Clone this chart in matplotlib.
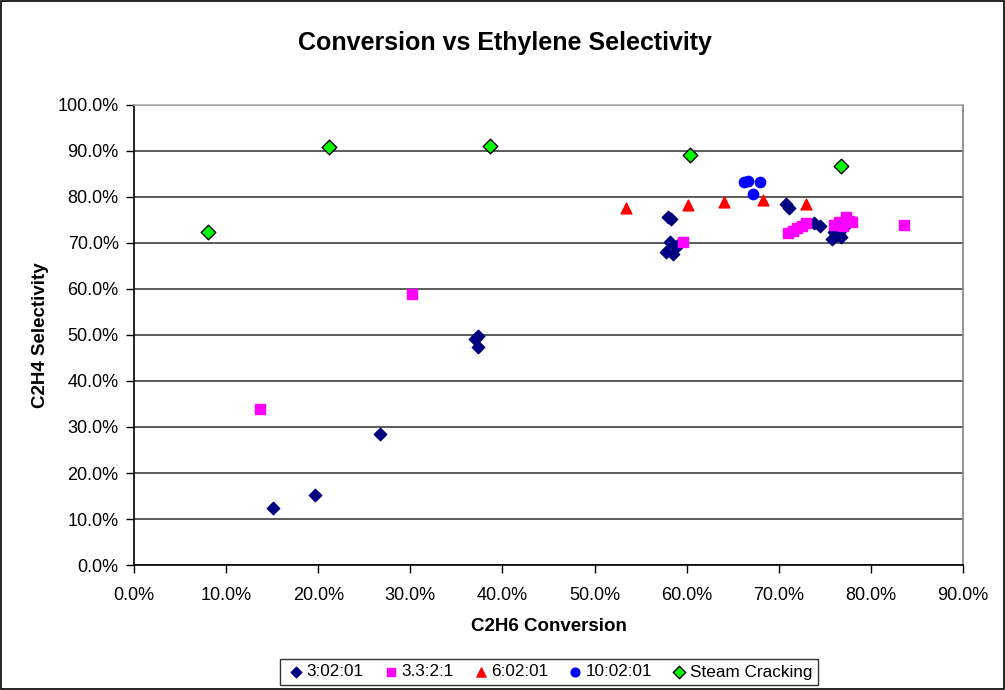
import matplotlib
matplotlib.use("Agg")
import matplotlib.pyplot as plt
from matplotlib.ticker import FuncFormatter, MultipleLocator
from matplotlib.patches import Rectangle

plt.rcParams['font.family'] = ['Liberation Sans', 'DejaVu Sans']

# C2H6 conversion (%) and C2H4 selectivity (%) per feed ratio
r3_conv = [15.1, 19.7, 26.7, 37.0, 37.3, 37.4, 58.0, 58.3, 57.8, 58.2, 58.5, 58.8, 59.2,
           70.8, 71.1, 73.8, 74.5, 75.8, 76.0, 76.3, 76.8, 76.5, 77.2]
r3_sel = [12.5, 15.3, 28.5, 49.2, 49.7, 47.5, 75.7, 75.3, 68.0, 70.3, 67.7, 69.2, 69.8,
          78.5, 77.6, 74.3, 73.8, 70.8, 72.3, 71.8, 71.2, 72.0, 73.6]

r33_conv = [13.7, 30.2, 59.6, 71.0, 71.5, 72.0, 72.5, 73.0,
            76.0, 76.5, 77.0, 77.3, 77.6, 78.0, 83.6]
r33_sel = [34.0, 59.0, 70.3, 72.2, 72.7, 73.2, 73.8, 74.3,
           74.0, 74.5, 73.8, 75.6, 74.8, 74.5, 74.0]

r6_conv = [53.4, 60.1, 64.0, 68.3, 73.0]
r6_sel = [77.7, 78.2, 79.0, 79.4, 78.4]

r10_conv = [66.2, 66.7, 68.0, 67.2]
r10_sel = [83.3, 83.4, 83.3, 80.7]

steam_conv = [8.0, 21.2, 38.7, 60.4, 76.8]
steam_sel = [72.3, 90.8, 91.0, 89.1, 86.8]

fig = plt.figure(figsize=(10.05, 6.9), dpi=100)
ax = fig.add_axes([134/1005, 1 - 565/690, (963-134)/1005, (565-105)/690])

ax.scatter(r3_conv, r3_sel, marker='D', s=40, color='#000080', label='3:02:01', zorder=3)
ax.scatter(r33_conv, r33_sel, marker='s', s=50, color='#FF00FF', label='3.3:2:1', zorder=3)
ax.scatter(r6_conv, r6_sel, marker='^', s=60, color='#FF0000', label='6:02:01', zorder=3)
ax.scatter(r10_conv, r10_sel, marker='o', s=55, color='#0000FF', label='10:02:01', zorder=3)
ax.scatter(steam_conv, steam_sel, marker='D', s=55, color='#00FF00', edgecolors='black',
           linewidths=1.0, label='Steam Cracking', zorder=4)

ax.set_xlim(0, 90)
ax.set_ylim(0, 100)
ax.xaxis.set_major_locator(MultipleLocator(10))
ax.yaxis.set_major_locator(MultipleLocator(10))
ax.xaxis.set_major_formatter(FuncFormatter(lambda v, p: f"{v:.1f}%"))
ax.yaxis.set_major_formatter(FuncFormatter(lambda v, p: f"{v:.1f}%"))
ax.tick_params(axis='both', direction='out', length=6, width=1, labelsize=13, color='black')
ax.tick_params(axis='x', pad=10)
ax.tick_params(axis='y', pad=5)
ax.yaxis.grid(True, color='#404040', linewidth=1.2)
ax.set_axisbelow(True)
ax.spines['left'].set_color('black')
ax.spines['bottom'].set_color('black')
ax.spines['top'].set_color('#B0B0B0')
ax.spines['right'].set_color('#808080')
for s in ax.spines.values():
    s.set_linewidth(1.2)

ax.set_xlabel('C2H6 Conversion', fontsize=13.5, fontweight='bold', labelpad=10)
ax.set_ylabel('C2H4 Selectivity', fontsize=13.5, fontweight='bold', labelpad=6)
fig.text(505/1005, 1 - 43/690, 'Conversion vs Ethylene Selectivity', ha='center', va='center',
         fontsize=18, fontweight='bold')

leg = fig.legend(loc='center', bbox_to_anchor=(549/1005, 1 - 672/690), ncol=5, frameon=True,
                 fancybox=False, edgecolor='black', fontsize=12.3, handletextpad=0.0,
                 columnspacing=1.0, borderpad=0.35, handlelength=1.2, markerscale=0.85)
leg.get_frame().set_linewidth(1.0)

fig.patches.append(Rectangle((1/1005, 1/690), 1 - 2/1005, 1 - 2/690, transform=fig.transFigure,
                             fill=False, edgecolor='black', linewidth=1.2))

fig.savefig('out.png', dpi=100)
